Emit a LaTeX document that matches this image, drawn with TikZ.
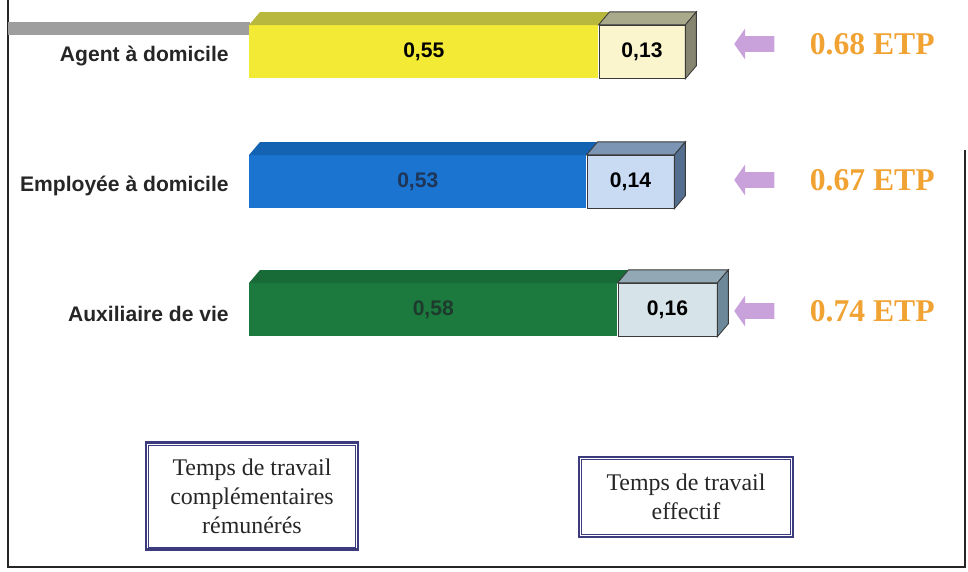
\documentclass[tikz,border=0pt]{standalone}
\usepackage{fontspec}
\setmainfont{Liberation Serif}
\newfontfamily\arialfont{Liberation Sans}
\usetikzlibrary{shapes, calc, positioning}

\definecolor{yelFront}{HTML}{F3EA35}
\definecolor{yelTop}{HTML}{B8B83E}
\definecolor{yelBox}{HTML}{FAF5CC}
\definecolor{yelBoxTop}{HTML}{A9A98C}
\definecolor{yelSide}{HTML}{868670}
\definecolor{bluFront}{HTML}{1B74CF}
\definecolor{bluTop}{HTML}{1462B2}
\definecolor{bluBox}{HTML}{C9DBF2}
\definecolor{bluBoxTop}{HTML}{7D95B5}
\definecolor{bluSide}{HTML}{546E90}
\definecolor{grnFront}{HTML}{1C7A3F}
\definecolor{grnTop}{HTML}{186A37}
\definecolor{grnBox}{HTML}{D6E3E8}
\definecolor{grnBoxTop}{HTML}{92A9B5}
\definecolor{grnSide}{HTML}{6D8898}
\definecolor{bluText}{HTML}{1E3558}
\definecolor{grnText}{HTML}{1E3A2C}
\definecolor{boxLine}{HTML}{3A3A3A}
\definecolor{etpOrange}{HTML}{F0A232}
\definecolor{lavender}{HTML}{C9A2DC}
\definecolor{legNavy}{HTML}{3B3B7E}

\begin{document}
\begin{tikzpicture}[x=0.025cm, y=-0.025cm,
  mainbar/.style={anchor=north west, inner sep=0pt, minimum height=1.325cm,
    font=\arialfont\bfseries\fontsize{15}{18}\selectfont},
  boxbar/.style={draw=boxLine, line width=0.6pt, inner sep=0pt, minimum height=1.325cm,
    font=\arialfont\bfseries\fontsize{15}{18}\selectfont},
  catlabel/.style={anchor=east, inner sep=0pt, text=black!85,
    font=\arialfont\bfseries\fontsize{15}{18}\selectfont},
  etparrow/.style={shape=single arrow, shape border rotate=180, fill=lavender,
    inner xsep=0pt, inner ysep=0.19cm, minimum height=1cm,
    single arrow head extend=0.19cm, single arrow tip angle=110},
  etptext/.style={anchor=west, inner sep=0pt, text=etpOrange,
    font=\bfseries\fontsize{22.5}{26}\selectfont},
  legend/.style={draw=legNavy, line width=2pt, align=center, text=black!85,
    font=\fontsize{17}{20.6}\selectfont}]

  \useasboundingbox (0,0) rectangle (968,572);

  % frame of the scanned slide
  \draw[line width=1.6pt, black!85] (8,0) -- (8,567) -- (965,567) -- (965,150);
  \fill[black!38] (8,22) rectangle (250,35);

  \foreach \i/\y/\wa/\wb/\cf/\ct/\cx/\cxt/\cxs/\ctx/\va/\vb/\lab/\etp/\ya in {
      1/25/349/86/yelFront/yelTop/yelBox/yelBoxTop/yelSide/black/{0,55}/{0,13}/{Agent à domicile}/{0.68 ETP}/44,
      2/155/337/87/bluFront/bluTop/bluBox/bluBoxTop/bluSide/bluText/{0,53}/{0,14}/{Employée à domicile}/{0.67 ETP}/180,
      3/283/368/99/grnFront/grnTop/grnBox/grnBoxTop/grnSide/grnText/{0,58}/{0,16}/{Auxiliaire de vie}/{0.74 ETP}/311} {
    \node[mainbar, fill=\cf, text=\ctx, minimum width=\wa*0.025cm] (main\i) at (249,\y) {\va};
    \node[boxbar, fill=\cx, minimum width=\wb*0.025cm, right=0pt of main\i] (extra\i) {\vb};
    \fill[\ct] (main\i.north west) -- ++(11,-13) -- ($(main\i.north east)+(11,-13)$) -- (main\i.north east) -- cycle;
    \filldraw[draw=boxLine, line width=0.6pt, fill=\cxt] (extra\i.north west) -- ++(11,-13)
      -- ($(extra\i.north east)+(11,-13)$) -- (extra\i.north east) -- cycle;
    \filldraw[draw=boxLine, line width=0.6pt, fill=\cxs] (extra\i.north east) -- ++(11,-13)
      -- ($(extra\i.south east)+(11,-13)$) -- (extra\i.south east) -- cycle;
    \node[catlabel, left=0.5cm of main\i.west, yshift=-0.1cm] (cat\i) {\lab};
    \node[etparrow] (arr\i) at (757,\ya) {};
    \node[etptext, right=0.875cm of arr\i.east] (etp\i) {\etp};
  }

  % legend boxes
  \node[legend, minimum width=5.3cm, minimum height=2.675cm] (leg1) at (252,496)
    {Temps de travail\\complémentaires\\rémunérés};
  \node[legend, minimum width=5.35cm, minimum height=2cm] (leg2) at (686,497)
    {Temps de travail\\effectif};
  \foreach \n in {leg1, leg2}
    \draw[legNavy, line width=0.6pt] ($(\n.north west)+(4,4)$) rectangle ($(\n.south east)+(-4,-4)$);
\end{tikzpicture}
\end{document}
